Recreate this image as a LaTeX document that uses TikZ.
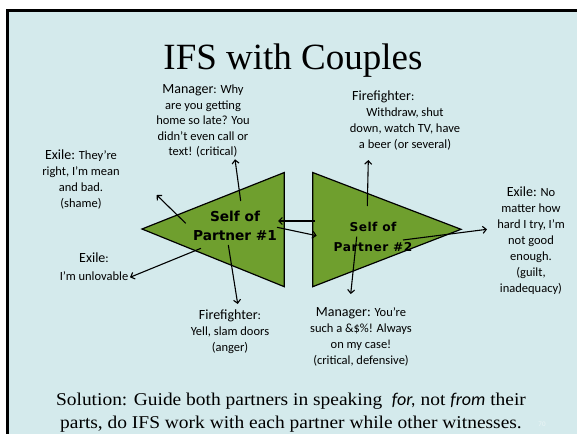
\documentclass[tikz,border=0pt]{standalone}
\usepackage{fontspec}
\setmainfont{Liberation Serif}
\setsansfont{Carlito}
\newfontfamily\selffont{DejaVu Sans}
\usetikzlibrary{arrows.meta, positioning}

\definecolor{slidebg}{RGB}{212,234,236}
\definecolor{selfgreen}{RGB}{111,159,46}
\definecolor{pagenum}{RGB}{236,245,246}

\newcommand{\pname}[1]{{\fontsize{14}{16}\selectfont #1}}

\begin{document}
\begin{tikzpicture}[x=1pt, y=-1pt,
    % text styles
    parttext/.style={font=\sffamily\fontsize{12.5}{16}\selectfont, align=center, inner sep=0pt, anchor=north},
    selflabel/.style={font=\selffont\bfseries\fontsize{13.7}{19}\selectfont, align=center, inner sep=0pt},
    % shapes and arrows
    selfshape/.style={draw, fill=selfgreen, line width=1.2pt, line join=miter},
    partarrow/.style={-{Straight Barb[length=3.5pt,width=7pt]}, line width=1.1pt}
]

% Slide background with border
\fill[white] (0,0) rectangle (577,434);
\fill[black] (6,9) rectangle (577,434);
\fill[slidebg] (9,12) rectangle (577,434);

% Title
\node[font=\fontsize{37}{40}\selectfont, anchor=base, inner sep=0pt] (title) at (293,69) {IFS with Couples};

% The two triangles
\coordinate (s1apex) at (142,229);
\coordinate (s1top) at (284.3,172.5);
\coordinate (s1bot) at (284.3,286.7);
\coordinate (s2top) at (312.7,172.5);
\coordinate (s2bot) at (312.7,286.7);
\coordinate (s2apex) at (461,229.3);
\draw[selfshape] (s1apex) -- (s1top) -- (s1bot) -- cycle;
\draw[selfshape] (s2top) -- (s2apex) -- (s2bot) -- cycle;

\node[selflabel] (self1) at (235,225.5) {Self of\\Partner \#1};
\node[selflabel, font=\selffont\bfseries\fontsize{12.2}{19.7}\selectfont\addfontfeature{LetterSpace=4}] (self2) at (373,237) {Self of\\Partner \#2};

% Parts of partner 1
\node[parttext, font=\sffamily\fontsize{12.5}{15.5}\selectfont] (mgr1) at (203,84.5) {\pname{Manager}: Why\\are you getting\\home so late? You\\didn’t even call or\\text! (critical)};
\node[parttext] (exile1) at (81,150) {\pname{Exile:} They’re\\right, I’m mean\\and bad.\\(shame)};
\node[parttext, font=\sffamily\fontsize{12.5}{17.7}\selectfont] (unlov1) at (94,253) {\pname{Exile}:\\I’m unlovable};
\node[parttext] (fire1) at (230,309.5) {\pname{Firefighter}:\\Yell, slam doors\\(anger)};

% Parts of partner 2
\node[parttext, anchor=west] (fire2name) at (352,97) {\pname{Firefighter}:};
\node[parttext] (fire2) at (405,107.3) {Withdraw, shut\\down, watch TV, have\\a beer (or several)};
\node[parttext] (mgr2) at (361,307) {\pname{Manager:} You’re\\such a \&\$\%! Always\\on my case!\\(critical, defensive)};
\node[parttext] (exile2) at (531,187) {\pname{Exile:} No\\matter how\\hard I try, I’m\\not good\\enough.\\(guilt,\\inadequacy)};

% Arrow ends
\coordinate (mgr1from) at (240.7,201);
\coordinate (mgr1to) at (235,159.3);
\coordinate (exile1from) at (185.7,223.3);
\coordinate (exile1to) at (156.7,195);
\coordinate (unlov1from) at (201,248.3);
\coordinate (unlov1to) at (130,277.3);
\coordinate (fire1from) at (228.3,245);
\coordinate (fire1to) at (237.7,304);
\coordinate (twoonefrom) at (315,221);
\coordinate (twooneto) at (278,221);
\coordinate (onetwofrom) at (277,227.3);
\coordinate (onetwoto) at (316.7,235.7);
\coordinate (fire2from) at (367.3,206);
\coordinate (fire2to) at (368.3,160);
\coordinate (mgr2from) at (356.7,236.7);
\coordinate (mgr2to) at (350.7,294);
\coordinate (exile2from) at (403,240);
\coordinate (exile2to) at (487,229.3);

% Arrows to the parts
\foreach \p in {mgr1, exile1, unlov1, fire1, fire2, mgr2, exile2} {
    \draw[partarrow] (\p from) -- (\p to);
}
\draw[partarrow] (twoonefrom) -- (twooneto);
\draw[partarrow] (onetwofrom) -- (onetwoto);

% Bottom line
\node[font=\fontsize{18}{23}\selectfont\addfontfeature{FakeStretch=1.08}, align=center, inner sep=0pt, anchor=base] (solution) at (291,428)
    {Solution: Guide both partners in speaking \ \textsf{\itshape for,} not \textsf{\itshape from} their\\parts, do IFS work with each partner while other witnesses.};
\node[font=\sffamily\fontsize{7}{8}\selectfont, text=pagenum, inner sep=0pt] (slidenum) at (542,424) {70};

\end{tikzpicture}
\end{document}
